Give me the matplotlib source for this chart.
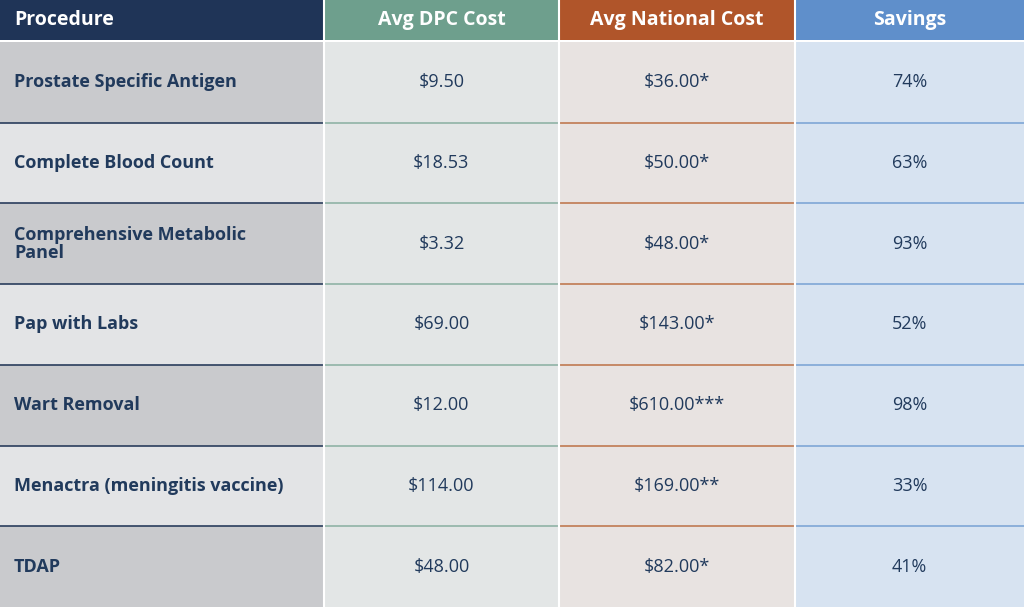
import matplotlib
matplotlib.use("Agg")
import matplotlib.pyplot as plt
from matplotlib.patches import Rectangle

headers = ["Procedure", "Avg DPC Cost", "Avg National Cost", "Savings"]
procedures = ["Prostate Specific Antigen", "Complete Blood Count", "Comprehensive Metabolic\nPanel",
              "Pap with Labs", "Wart Removal", "Menactra (meningitis vaccine)", "TDAP"]
dpc_cost = ["$9.50", "$18.53", "$3.32", "$69.00", "$12.00", "$114.00", "$48.00"]
national_cost = ["$36.00*", "$50.00*", "$48.00*", "$143.00*", "$610.00***", "$169.00**", "$82.00*"]
savings = ["74%", "63%", "93%", "52%", "98%", "33%", "41%"]

W, H = 1024, 607
fig = plt.figure(figsize=(W/100, H/100), dpi=100)
ax = fig.add_axes([0, 0, 1, 1])
ax.set_xlim(0, W); ax.set_ylim(H, 0); ax.axis("off")

col_x = [0, 324, 559, 795, 1024]
head_colors = ["#1f3457", "#6e9f8d", "#b0552a", "#5f8fcb"]
line_colors = ["#2a3d5c", "#8fb3a6", "#c07a52", "#7fa6d6"]
body_colors = [None, "#e3e6e6", "#e8e3e1", "#d7e3f1"]
txt = "#213a5c"
font = "Open Sans"
head_h = 40
row_h = (H - 42) / len(procedures)

for c in range(4):
    ax.add_patch(Rectangle((col_x[c], 0), col_x[c+1]-col_x[c], head_h, color=head_colors[c], lw=0))
    if c == 0:
        ax.text(14, head_h/2, headers[c], color="white", fontsize=14, fontweight="bold",
                family=font, va="center", ha="left")
    else:
        ax.text((col_x[c]+col_x[c+1])/2, head_h/2, headers[c], color="white", fontsize=14,
                fontweight="bold", family=font, va="center", ha="center")

cols = [procedures, dpc_cost, national_cost, savings]
for r in range(len(procedures)):
    y0 = 42 + r*row_h
    for c in range(4):
        fc = ("#c9cacd" if r % 2 == 0 else "#e3e4e6") if c == 0 else body_colors[c]
        ax.add_patch(Rectangle((col_x[c], y0), col_x[c+1]-col_x[c], row_h, color=fc, lw=0))
        if r > 0:
            ax.plot([col_x[c], col_x[c+1]], [y0, y0], color=line_colors[c], lw=1.2)
        if c == 0:
            ax.text(14, y0+row_h/2, cols[c][r], color=txt, fontsize=13, fontweight="bold",
                    family=font, va="center", ha="left", linespacing=1.0)
        else:
            ax.text((col_x[c]+col_x[c+1])/2, y0+row_h/2, cols[c][r], color=txt, fontsize=13,
                    family=font, va="center", ha="center")

for x in col_x[1:4]:
    ax.plot([x, x], [0, H], color="white", lw=1.5)

fig.savefig("out.png", dpi=100)
